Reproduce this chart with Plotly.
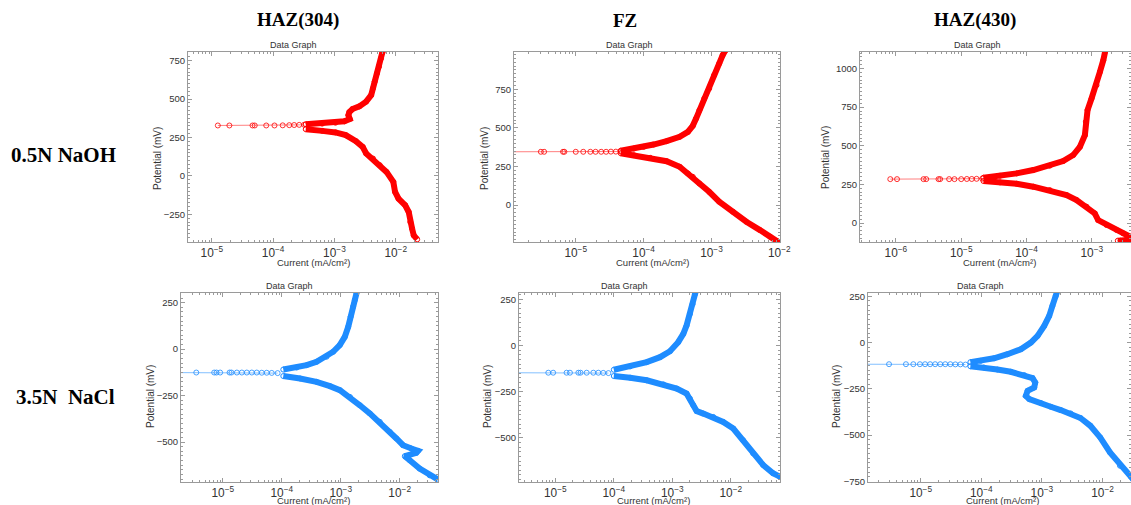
import plotly.graph_objects as go

W, H = 1131, 505

# ---------------- data (current in mA/cm^2, potential in mV) ----------------
col_titles = ["HAZ(304)", "FZ", "HAZ(430)"]
row_titles = ["0.5N NaOH", "3.5N  NaCl"]

# Panel 1: HAZ(304), 0.5N NaOH
p1_near_I = [1.25e-5, 1.93e-5, 4.6e-5, 5.0e-5, 7.7e-5, 1.05e-4, 1.43e-4, 1.83e-4, 2.2e-4, 2.66e-4, 3.2e-4]
p1_near_E = [328, 328, 328, 328, 328, 328, 329, 330, 331, 332, 333]
p1_cath_I = [2.24e-2, 1.97e-2, 1.85e-2, 1.73e-2, 1.63e-2, 1.43e-2, 1.11e-2, 9.75e-3, 9.14e-3, 7.08e-3,
             5.48e-3, 4.25e-3, 3.29e-3, 2.89e-3, 2.24e-3, 1.53e-3, 1.04e-3, 6.32e-4, 3.4e-4]
p1_cath_E = [-413, -387, -343, -300, -235, -191, -148, -104, -39, 26,
             70, 113, 146, 189, 226, 265, 283, 293, 304]
p1_anod_I = [3.4e-4, 6.3e-4, 1.04e-3, 1.45e-3, 1.78e-3, 1.69e-3, 1.75e-3, 1.97e-3, 2.55e-3, 3.29e-3,
             3.98e-3, 4.25e-3, 4.53e-3, 4.95e-3, 5.34e-3, 5.77e-3, 6.07e-3, 6.3e-3]
p1_anod_E = [336, 340, 346, 355, 370, 395, 415, 435, 452, 483,
             526, 570, 613, 667, 711, 765, 804, 830]

# Panel 2: FZ, 0.5N NaOH
p2_near_I = [1.0e-6, 3.06e-6, 3.42e-6, 6.49e-6, 6.8e-6, 1.0e-5, 1.29e-5, 1.64e-5, 1.96e-5, 2.37e-5,
             2.8e-5, 3.3e-5, 3.9e-5, 4.6e-5]
p2_near_E = [345, 345, 345, 345, 345, 345, 345, 345, 345, 345, 345, 346, 346, 347]
p2_cath_I = [1.05e-2, 9.23e-3, 7.33e-3, 5.19e-3, 3.27e-3, 2.07e-3, 1.3e-3, 9.25e-4, 6.63e-4, 5.3e-4,
             4.49e-4, 3.4e-4, 2.18e-4, 1.25e-4, 7.2e-5, 4.6e-5]
p2_cath_E = [-250, -233, -205, -162, -108, -43, 22, 86, 140, 183,
             205, 248, 284, 306, 323, 336]
p2_anod_I = [4.6e-5, 7.18e-5, 1.0e-4, 1.4e-4, 2.18e-4, 3.4e-4, 4.49e-4, 5.3e-4, 5.93e-4, 6.63e-4,
             7.83e-4, 9.25e-4, 1.09e-3, 1.3e-3, 1.46e-3, 1.6e-3]
p2_anod_E = [352, 366, 377, 392, 414, 442, 474, 513, 560, 614,
             690, 754, 840, 916, 970, 1000]

# Panel 3: HAZ(430), 0.5N NaOH
p3_near_I = [8.2e-7, 1.04e-6, 2.65e-6, 2.91e-6, 4.49e-6, 4.76e-6, 6.53e-6, 7.88e-6, 1.0e-5, 1.22e-5,
             1.45e-5, 1.72e-5, 2.1e-5]
p3_near_E = [284, 284, 284, 284, 284, 284, 284, 284, 284, 285, 285, 286, 287]
p3_cath_I = [2.5e-3, 2.75e-3, 4.2e-3, 3.81e-3, 3.02e-3, 2.39e-3, 1.68e-3, 1.25e-3, 1.11e-3, 8.3e-4,
             5.83e-4, 4.1e-4, 2.27e-4, 1.27e-4, 7.06e-5, 3.93e-5, 2.19e-5]
p3_cath_E = [-115, -115, -108, -88, -67, -45, -13, 19, 62, 106,
             149, 181, 213, 235, 254, 263, 272]
p3_anod_I = [2.19e-5, 3.93e-5, 7.06e-5, 1.27e-4, 2.27e-4, 3.64e-4, 5.19e-4, 6.56e-4, 7.83e-4, 8.1e-4,
             8.6e-4, 9.9e-4, 1.18e-3, 1.33e-3, 1.5e-3, 1.6e-3]
p3_anod_E = [293, 306, 321, 343, 371, 401, 440, 493, 569, 655,
             731, 806, 892, 978, 1054, 1110]

# Panel 4: HAZ(304), 3.5N NaCl
p4_near_I = [1.0e-6, 3.54e-6, 7.13e-6, 7.8e-6, 9.0e-6, 1.3e-5, 1.4e-5, 1.73e-5, 2.1e-5, 2.55e-5,
             3.1e-5, 3.76e-5, 4.57e-5, 5.55e-5, 6.75e-5, 8.5e-5]
p4_near_E = [-126, -126, -126, -126, -126, -126, -126, -126, -126, -126,
             -126, -126, -127, -127, -128, -129]
p4_cath_I = [4.46e-2, 3.22e-2, 2.18e-2, 1.48e-2, 1.22e-2, 1.91e-2, 2.05e-2, 1.58e-2, 1.14e-2, 8.8e-3,
             6.78e-3, 4.59e-3, 3.11e-3, 2.11e-3, 1.43e-3, 9.66e-4, 6.55e-4, 3.89e-4, 2.04e-4, 1.06e-4]
p4_cath_E = [-702, -679, -643, -598, -576, -558, -547, -535, -517, -481,
             -445, -391, -346, -302, -257, -221, -199, -176, -158, -145]
p4_anod_I = [1.06e-4, 1.79e-4, 2.64e-4, 3.89e-4, 5.74e-4, 7.44e-4, 9.62e-4, 1.17e-3, 1.34e-3, 1.47e-3,
             1.62e-3, 1.73e-3, 1.85e-3, 1.95e-3]
p4_anod_E = [-110, -99, -86, -68, -41, -14, 22, 66, 120, 174,
             228, 264, 303, 330]

# Panel 5: FZ, 3.5N NaCl
p5_near_I = [1.0e-6, 7.6e-6, 9.2e-6, 1.56e-5, 1.78e-5, 2.48e-5, 2.7e-5, 3.44e-5, 4.47e-5, 5.44e-5,
             6.6e-5, 8.1e-5]
p5_near_E = [-147, -147, -147, -147, -147, -147, -147, -147, -147, -147, -148, -149]
p5_cath_I = [7.5e-2, 6.84e-2, 5.26e-2, 3.56e-2, 2.4e-2, 1.62e-2, 1.1e-2, 7.4e-3, 5.0e-3, 3.38e-3,
             2.6e-3, 2.28e-3, 2.0e-3, 1.75e-3, 1.19e-3, 7.03e-4, 3.65e-4, 1.9e-4, 1.0e-4]
p5_cath_E = [-715, -709, -691, -646, -583, -512, -449, -413, -386, -368,
             -354, -323, -287, -260, -233, -210, -188, -174, -165]
p5_anod_I = [1.0e-4, 1.9e-4, 3.65e-4, 6.16e-4, 9.12e-4, 1.26e-3, 1.54e-3, 1.75e-3, 2.0e-3, 2.22e-3,
             2.43e-3, 2.55e-3]
p5_anod_E = [-131, -113, -90, -63, -31, 18, 63, 108, 171, 224, 278, 300]

# Panel 6: HAZ(430), 3.5N NaCl
p6_near_I = [1.0e-6, 3.0e-6, 5.7e-6, 7.55e-6, 9.7e-6, 1.18e-5, 1.43e-5, 1.73e-5, 2.1e-5, 2.54e-5,
             3.08e-5, 3.73e-5, 4.52e-5, 5.48e-5]
p6_near_E = [-117, -117, -117, -117, -117, -117, -117, -117, -117, -117, -117, -118, -118, -119]
p6_cath_I = [3.2e-2, 2.93e-2, 1.94e-2, 1.33e-2, 9.16e-3, 6.3e-3, 4.33e-3, 2.97e-3, 2.04e-3, 1.4e-3,
             9.6e-4, 6.2e-4, 5.43e-4, 5.8e-4, 7.46e-4, 7.76e-4, 7.0e-4, 5.1e-4, 3.06e-4, 1.84e-4,
             1.1e-4, 6.6e-5]
p6_cath_E = [-740, -725, -666, -594, -513, -450, -408, -383, -365, -347,
             -327, -306, -288, -261, -243, -216, -192, -176, -158, -146,
             -135, -128]
p6_anod_I = [6.6e-5, 9.8e-5, 1.62e-4, 2.7e-4, 4.49e-4, 6.57e-4, 8.48e-4, 1.09e-3, 1.32e-3, 1.49e-3,
             1.69e-3, 1.8e-3]
p6_anod_E = [-106, -99, -85, -63, -36, 0, 36, 90, 144, 198, 252, 280]

# ---------------- layout geometry (pixels) ----------------
RED = "#ff0000"
RED_M = "rgba(255,0,0,0.8)"
RED_T = "rgba(255,0,0,0.5)"
BLUE = "#1e8cff"
BLUE_M = "rgba(30,140,255,0.8)"
BLUE_T = "rgba(30,140,255,0.55)"

panels = [
    dict(box=(188, 438, 52, 242), xr=(-5.39, -1.31), yr=(-430, 806), c=RED, cm=RED_M, ct=RED_T,
         near=(p1_near_I, p1_near_E), cath=(p1_cath_I, p1_cath_E), anod=(p1_anod_I, p1_anod_E),
         tx=293, ty=45.5, cx=313, cy=262, px=157, py=158),
    dict(box=(514, 780, 52, 242), xr=(-5.91, -1.99), yr=(-239, 991), c=RED, cm=RED_M, ct=RED_T,
         near=(p2_near_I, p2_near_E), cath=(p2_cath_I, p2_cath_E), anod=(p2_anod_I, p2_anod_E),
         tx=629, ty=45.5, cx=652, cy=262, px=484, py=158),
    dict(box=(860, 1131, 52, 242), xr=(-6.55, -2.40), yr=(-123, 1107), c=RED, cm=RED_M, ct=RED_T,
         near=(p3_near_I, p3_near_E), cath=(p3_cath_I, p3_cath_E), anod=(p3_anod_I, p3_anod_E),
         tx=977, ty=45.5, cx=999, cy=262, px=825, py=158),
    dict(box=(181, 438, 293, 482), xr=(-5.71, -1.35), yr=(-715, 302), c=BLUE, cm=BLUE_M, ct=BLUE_T,
         near=(p4_near_I, p4_near_E), cath=(p4_cath_I, p4_cath_E), anod=(p4_anod_I, p4_anod_E),
         tx=289, ty=286, cx=314, cy=500.5, px=150, py=397),
    dict(box=(519, 780, 293, 482), xr=(-5.62, -1.16), yr=(-738, 284), c=BLUE, cm=BLUE_M, ct=BLUE_T,
         near=(p5_near_I, p5_near_E), cath=(p5_cath_I, p5_cath_E), anod=(p5_anod_I, p5_anod_E),
         tx=624, ty=286, cx=653, cy=500.5, px=487, py=397),
    dict(box=(868, 1131, 293, 482), xr=(-5.87, -1.53), yr=(-754, 268), c=BLUE, cm=BLUE_M, ct=BLUE_T,
         near=(p6_near_I, p6_near_E), cath=(p6_cath_I, p6_cath_E), anod=(p6_anod_I, p6_anod_E),
         tx=980, ty=286, cx=1002, cy=500.5, px=836, py=397),
]

FONT = "Liberation Sans, Arial, sans-serif"
SERIF = "Liberation Serif, Times New Roman, serif"
FRAME = "#9a9a9a"
TXT = "#333333"

fig = go.Figure()
layout = dict(width=W, height=H, margin=dict(l=0, r=0, t=0, b=0, autoexpand=False), autosize=False,
              paper_bgcolor="white", plot_bgcolor="white", showlegend=False)
annotations = []


def px2x(v):
    return v / W


def px2y(v):
    return 1 - v / H


def note(text, x, y, font, angle=0):
    return dict(text=text, x=px2x(x), y=px2y(y), xref="paper", yref="paper", showarrow=False,
                xanchor="center", yanchor="middle", textangle=angle, font=font)


for i, p in enumerate(panels, start=1):
    xa = "x" if i == 1 else f"x{i}"
    ya = "y" if i == 1 else f"y{i}"
    x0, x1, y0, y1 = p["box"]
    # thin line with sparse markers around Ecorr
    fig.add_trace(go.Scatter(x=p["near"][0], y=p["near"][1], xaxis=xa, yaxis=ya, mode="lines+markers",
                             line=dict(color=p["ct"], width=1),
                             marker=dict(symbol="circle-open", size=5, color=p["cm"], line=dict(width=1)),
                             hoverinfo="x+y"))
    # dense branches (overlapping markers look like a thick band)
    for br in ("cath", "anod"):
        fig.add_trace(go.Scatter(x=p[br][0], y=p[br][1], xaxis=xa, yaxis=ya, mode="lines+markers",
                                 line=dict(color=p["c"], width=6),
                                 marker=dict(symbol="circle-open", size=5, color=p["c"], line=dict(width=1)),
                                 hoverinfo="x+y"))
    axcommon = dict(showline=True, linecolor=FRAME, linewidth=1, mirror="ticks", ticks="inside",
                    tickcolor=FRAME, showgrid=False, zeroline=False, automargin=False,
                    tickfont=dict(family=FONT, size=9.5, color=TXT))
    layout["xaxis" if i == 1 else f"xaxis{i}"] = dict(
        axcommon, type="log", range=list(p["xr"]), dtick=1, exponentformat="power",
        ticklen=4, domain=[px2x(x0), px2x(x1)], anchor=ya,
        minor=dict(ticks="inside", ticklen=2, tickcolor=FRAME, showgrid=False))
    layout["yaxis" if i == 1 else f"yaxis{i}"] = dict(
        axcommon, range=list(p["yr"]), dtick=250, ticklen=4,
        domain=[px2y(y1), px2y(y0)], anchor=xa,
        minor=dict(ticks="inside", ticklen=2, dtick=25, tickcolor=FRAME, showgrid=False))
    annotations.append(note("Data Graph", p["tx"], p["ty"], dict(family=FONT, size=9, color=TXT)))
    annotations.append(note("Current (mA/cm²)", p["cx"], p["cy"], dict(family=FONT, size=9.5, color=TXT)))
    annotations.append(note("Potential (mV)", p["px"], p["py"], dict(family=FONT, size=10, color=TXT), -90))

for t, xc in zip(col_titles, [298, 625, 975]):
    annotations.append(note(f"<b>{t}</b>", xc, 20, dict(family=SERIF, size=19, color="black")))
for t, yc, xc in zip(row_titles, [155, 397], [63, 65]):
    annotations.append(note(f"<b>{t.replace('  ', '&nbsp; ')}</b>", xc, yc,
                            dict(family=SERIF, size=21, color="black")))

layout["annotations"] = annotations
fig.update_layout(**layout)
fig.write_html(
    "out.html",
    config={"displayModeBar": False},
    post_script="document.body.style.margin='0';document.body.style.padding='0';",
)
